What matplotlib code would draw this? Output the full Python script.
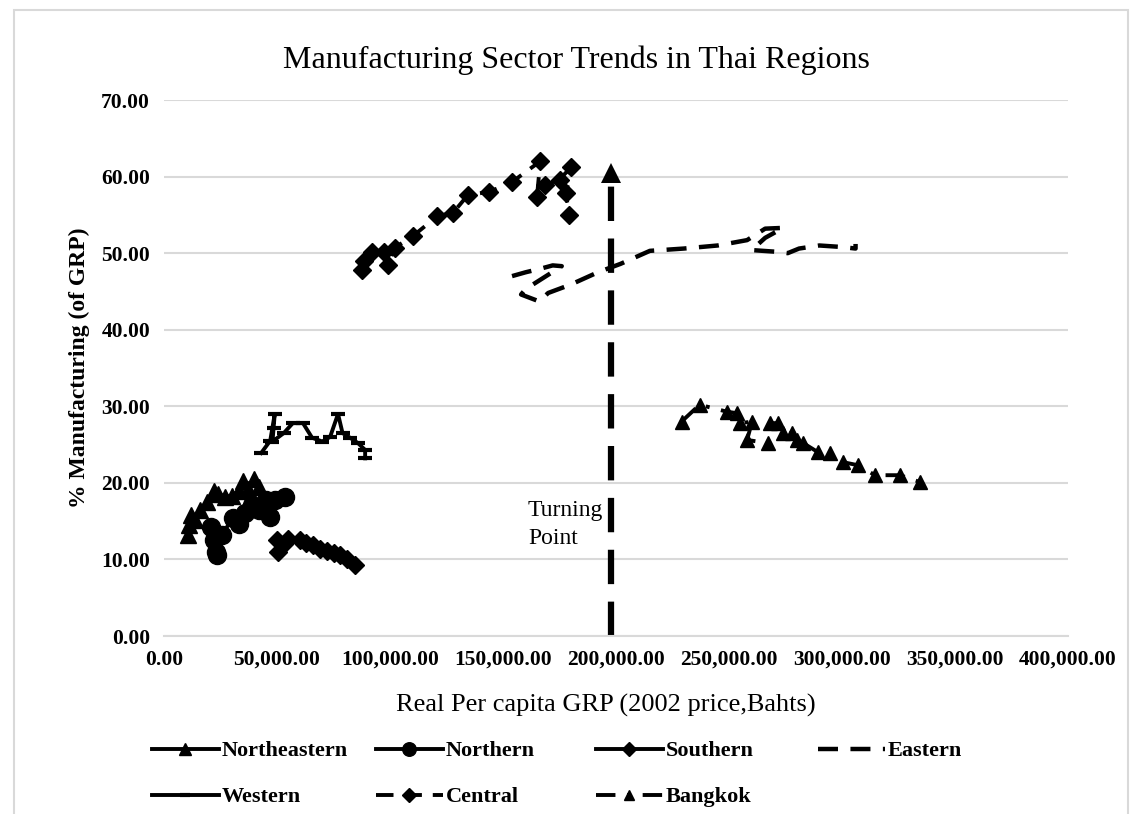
import matplotlib
matplotlib.use("Agg")
import matplotlib.pyplot as plt
from matplotlib.ticker import FuncFormatter, MultipleLocator
from matplotlib.patches import Rectangle

# ---------------- data ----------------
ne_x = [10500, 11000, 12000, 13500, 16000, 19000, 22000, 24000, 27000, 30000, 33000, 35000, 37000, 40000, 42000]
ne_y = [13.2, 14.5, 15.8, 15.2, 16.5, 17.5, 19.0, 18.6, 18.2, 18.3, 19.0, 20.2, 19.2, 20.5, 19.5]

n_x = [21000, 22000, 23000, 23500, 25500, 30500, 33000, 36000, 39000, 42000, 45000, 47000, 49000, 53500]
n_y = [14.2, 12.5, 11.0, 10.6, 13.2, 15.4, 14.6, 16.0, 17.1, 16.5, 17.7, 15.5, 17.8, 18.1]

s_x = [50000, 50500, 53000, 55000, 60000, 63000, 66000, 69000, 72000, 75000, 78000, 81000, 84500]
s_y = [12.5, 11.0, 12.0, 12.7, 12.6, 12.2, 11.9, 11.4, 11.1, 10.9, 10.6, 10.0, 9.3]

e_x = [154000, 160000, 167000, 172000, 176000, 160000, 158000, 166000, 170000, 180000, 192000,
       202000, 215000, 230000, 245000, 258000, 266000, 274000, 266000, 260000, 270000, 276000,
       281000, 290000, 300000, 306000, 306000]
e_y = [47.0, 47.5, 48.0, 48.4, 48.3, 45.3, 44.6, 43.7, 44.8, 45.9, 47.5,
       48.6, 50.3, 50.6, 51.0, 51.7, 53.2, 53.3, 52.0, 50.4, 50.2, 50.0,
       50.6, 51.0, 50.8, 50.6, 51.2]

w_x = [43000, 47000, 49000, 48500, 48000, 53000, 57000, 61500, 65500, 70000, 73500, 77000, 79000, 82300, 85800, 89000, 89000]
w_y = [23.9, 25.5, 29.0, 27.2, 25.4, 26.5, 27.8, 27.8, 25.9, 25.4, 26.0, 29.0, 26.5, 25.9, 25.2, 24.3, 23.2]

c_x = [87500, 88500, 92000, 97500, 99000, 102000, 110000, 120800, 128000, 134500, 144000, 154000,
       166500, 165000, 168500, 175000, 180000, 178000, 179000]
c_y = [47.8, 49.0, 50.2, 50.2, 48.5, 50.7, 52.2, 54.8, 55.3, 57.6, 58.0, 59.3,
       62.0, 57.3, 58.9, 59.6, 61.2, 57.8, 55.0]

b_x = [229000, 237000, 249000, 253500, 255000, 260200, 258000, 267300, 268200, 271700, 273900, 277900,
       280100, 282800, 289400, 294700, 300500, 307100, 314600, 325700, 334500]
b_y = [28.0, 30.2, 29.3, 29.1, 27.8, 28.0, 25.6, 25.2, 27.8, 27.8, 26.5, 26.5,
       25.6, 25.2, 24.0, 23.9, 22.7, 22.3, 21.0, 21.0, 20.1]

turning_x = 198000
turning_top = 60.5

title = "Manufacturing Sector Trends in Thai Regions"
xlabel = "Real Per capita GRP (2002 price,Bahts)"
ylabel = "% Manufacturing (of GRP)"

# ---------------- figure ----------------
plt.rcParams['font.family'] = ['Liberation Serif', 'DejaVu Serif']
fig = plt.figure(figsize=(11.30, 8.14), dpi=100)
fig.patches.append(Rectangle((14/1130, -0.1), (1128-14)/1130, 1 - 10/814 + 0.1,
                             transform=fig.transFigure, fill=False,
                             edgecolor='#d9d9d9', linewidth=1.5))

ax = fig.add_axes([164/1130, 1 - 636/814, (1068-164)/1130, (636-100)/814])

lw = 2.8
h_ne, = ax.plot(ne_x, ne_y, '-', color='black', lw=lw, marker='^', ms=12, label='Northeastern')
h_n, = ax.plot(n_x, n_y, '-', color='black', lw=lw, marker='o', ms=13, label='Northern')
h_s, = ax.plot(s_x, s_y, '-', color='black', lw=lw, marker='D', ms=9, label='Southern')
h_e, = ax.plot(e_x, e_y, color='black', lw=lw + 0.4, dashes=(4.5, 2.8), label='Eastern')
h_w, = ax.plot(w_x, w_y, '-', color='black', lw=lw, marker='_', ms=10, mew=3, label='Western')
h_c, = ax.plot(c_x, c_y, color='black', lw=lw, dashes=(4.5, 2.8), marker='D', ms=9, label='Central')
h_b, = ax.plot(b_x, b_y, color='black', lw=lw, dashes=(5, 3, 1, 3), marker='^', ms=10, label='Bangkok')

# turning point
ax.plot([turning_x, turning_x], [0, turning_top - 1.5], color='black', lw=4.5, dashes=(5.5, 2.8))
ax.plot([turning_x], [turning_top], marker='^', color='black', ms=15, markeredgewidth=0)
ax.text(turning_x - 37000, 14.6, "Turning\nPoint", fontsize=17, ha='left', va='center',
        linespacing=1.45)

ax.set_xlim(0, 400000)
ax.set_ylim(0, 70)
ax.xaxis.set_major_locator(MultipleLocator(50000))
ax.yaxis.set_major_locator(MultipleLocator(10))
ax.xaxis.set_major_formatter(FuncFormatter(lambda v, p: f"{v:,.2f}"))
ax.yaxis.set_major_formatter(FuncFormatter(lambda v, p: f"{v:.2f}"))
ax.grid(axis='y', color='#d9d9d9', lw=1.5)
ax.set_axisbelow(True)
for side in ['left', 'right', 'top']:
    ax.spines[side].set_visible(False)
ax.spines['bottom'].set_color('#d9d9d9')
ax.spines['bottom'].set_linewidth(1.5)
ax.tick_params(length=0, pad=10)
for lab in ax.get_xticklabels() + ax.get_yticklabels():
    lab.set_fontweight('bold')
    lab.set_fontsize(15.5)

fig.text(576/1130, 1 - 60/814, title, fontsize=23, ha='center', va='center')
fig.text(606/1130, 1 - 705/814, xlabel, fontsize=19, ha='center', va='center')
ax.set_ylabel(ylabel, fontsize=17, fontweight='bold', labelpad=8)

# legend: one entry per slot, like the reference layout
slots = [(h_ne, 152, 751), (h_n, 376, 751), (h_s, 596, 751), (h_e, 818, 751),
         (h_w, 152, 797), (h_c, 376, 797), (h_b, 596, 797)]
for h, px, py in slots:
    fig.legend(handles=[h], labels=[h.get_label()], loc='center left',
               bbox_to_anchor=(px/1130, 1 - py/814), frameon=False, borderpad=0,
               borderaxespad=0, prop={'weight': 'bold', 'size': 16}, handlelength=3.0,
               markerscale=0.75, handletextpad=0.15)

fig.savefig("out.png", dpi=100)
